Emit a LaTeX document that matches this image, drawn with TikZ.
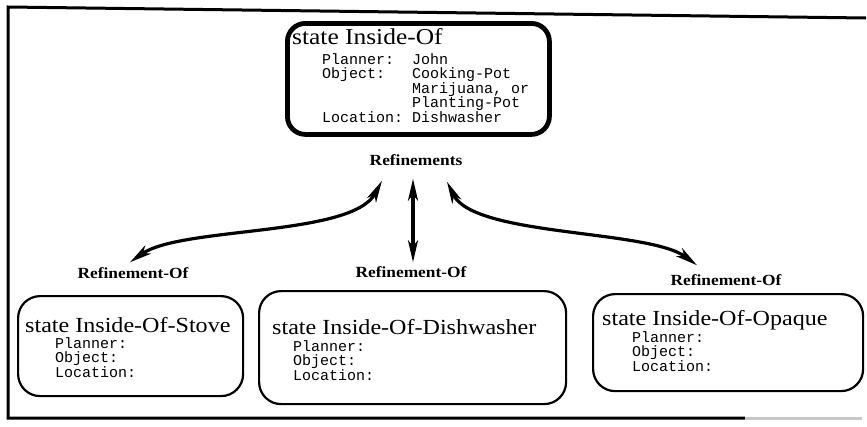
\documentclass[tikz,border=0pt]{standalone}
\usepackage{fontspec}
\setmainfont{Liberation Serif}[FakeStretch=1.12]
\setmonofont{Liberation Mono}
\usetikzlibrary{arrows.meta,calc}
\begin{document}
\begin{tikzpicture}[x=1pt,y=-1pt,
  frameline/.style={line width=3pt},
  topbox/.style={draw, line width=4.8pt, rounded corners=18pt, anchor=north west, inner sep=0pt},
  subbox/.style={draw, line width=2.2pt, rounded corners=22pt, anchor=north west, inner sep=0pt},
  titletext/.style={anchor=base west, inner sep=0pt, font=\fontsize{21.5}{24}\selectfont},
  bigtitle/.style={titletext, font=\fontsize{22.7}{25}\selectfont},
  fieldtext/.style={anchor=base west, inner sep=0pt, font=\ttfamily\fontsize{15}{12.5}\selectfont},
  linklabel/.style={inner sep=1pt, font=\bfseries\fontsize{15.5}{17}\selectfont},
  link/.style={line width=3.2pt, {Stealth[length=22pt,width=10pt,inset=6pt]}-{Stealth[length=22pt,width=10pt,inset=6pt]}}
]
\useasboundingbox (0,0) rectangle (867,426);

% open frame: top, left and bottom rules
\draw[frameline] (866,18) -- (8,7) -- (8,418) -- (745,418);
\draw[frameline, gray!45] (745,418) -- (862,418);

% parent state
\node[topbox, minimum width=262pt, minimum height=111pt] (top) at (285,21) {};
\node[bigtitle] (topT) at (292,44) {state Inside-Of};
\node[fieldtext] (topF) at (322,64) {\begin{tabular}[t]{@{}l@{\ }l@{}}
Planner: & John\\
Object: & Cooking-Pot\\
 & Marijuana, or\\
 & Planting-Pot\\
Location: & Dishwasher
\end{tabular}};

\node[linklabel] (refs) at (416,160) {Refinements};

% refined states
\node[linklabel] (ref1) at (133,273) {Refinement-Of};
\node[linklabel] (ref2) at (411,272) {Refinement-Of};
\node[linklabel] (ref3) at (726,280) {Refinement-Of};

\node[subbox, minimum width=225pt, minimum height=100pt] (b1) at (17,295) {};
\node[titletext] (b1T) at (25,332) {state Inside-Of-Stove};
\node[fieldtext] (b1F) at (55,348) {\begin{tabular}[t]{@{}l@{}}Planner:\\Object:\\Location:\end{tabular}};

\node[subbox, minimum width=307pt, minimum height=113pt] (b2) at (258,290) {};
\node[titletext] (b2T) at (272,334) {state Inside-Of-Dishwasher};
\node[fieldtext] (b2F) at (293,351) {\begin{tabular}[t]{@{}l@{}}Planner:\\Object:\\Location:\end{tabular}};

\node[subbox, minimum width=270pt, minimum height=97pt] (b3) at (592,293) {};
\node[titletext] (b3T) at (602,325) {state Inside-Of-Opaque};
\node[fieldtext] (b3F) at (632,342) {\begin{tabular}[t]{@{}l@{}}Planner:\\Object:\\Location:\end{tabular}};

% refinement links
\draw[link] ($(refs.south)+(-34,14)$) .. controls ($(refs.south)+(-64,70)$) and ($(ref1.north)+(48,-40)$) .. ($(ref1.north)+(-3,-4)$);
\draw[link] ($(refs.south)+(-3,12)$) -- ($(ref2.north)+(2,-3)$);
\draw[link] ($(refs.south)+(31,15)$) .. controls ($(refs.south)+(58,70)$) and ($(ref3.north)+(-78,-44)$) .. ($(ref3.north)+(-29,-8)$);
\end{tikzpicture}
\end{document}
